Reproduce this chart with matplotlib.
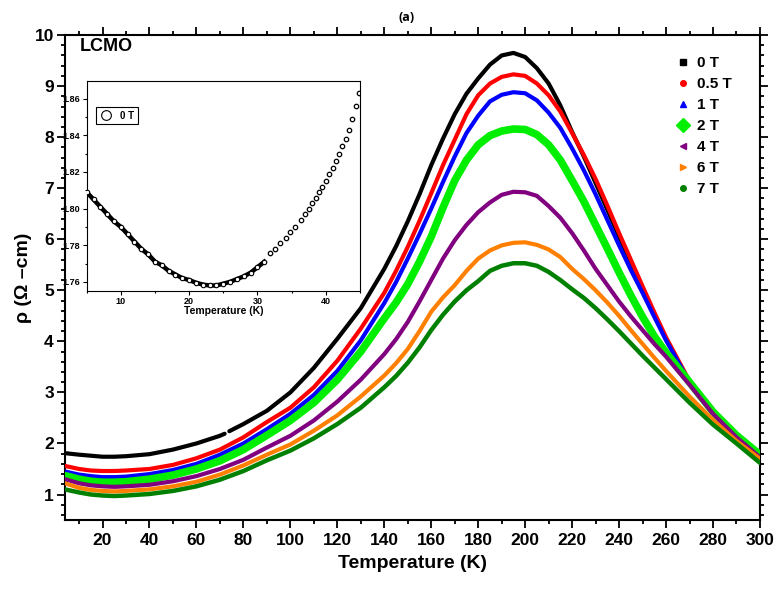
import matplotlib
matplotlib.use("Agg")
import matplotlib.pyplot as plt
import numpy as np
from matplotlib.lines import Line2D
from matplotlib.ticker import MultipleLocator, FormatStrFormatter

plt.rcParams["font.family"] = ["Liberation Sans", "DejaVu Sans"]
plt.rcParams["font.weight"] = "bold"

# temperature grid (K) shared by the field curves
temps = [4, 10, 15, 20, 25, 30, 40, 50, 60, 70, 80, 90, 100, 110, 120, 130, 140,
         145, 150, 155, 160, 165, 170, 175, 180, 185, 190, 195, 200, 205, 210, 215,
         220, 225, 230, 235, 240, 245, 250, 255, 260, 270, 280, 290, 300]

rho_0T = [1.81, 1.78, 1.76, 1.74, 1.74, 1.75, 1.79, 1.88, 2.00, 2.15, 2.38, 2.64, 3.00,
          3.48, 4.05, 4.65, 5.42,
          5.86, 6.35, 6.88, 7.45, 7.97, 8.45, 8.85, 9.15, 9.42, 9.60, 9.65, 9.57, 9.35,
          9.05, 8.62, 8.10, 7.62, 7.10, 6.58, 6.05, 5.53, 5.02, 4.52, 4.05,
          3.18, 2.60, 2.14, 1.75]
rho_05T = [1.56, 1.50, 1.47, 1.46, 1.46, 1.47, 1.50, 1.58, 1.71, 1.88, 2.12, 2.42, 2.70,
           3.10, 3.62, 4.25, 4.95,
           5.38, 5.85, 6.36, 6.90, 7.45, 7.95, 8.45, 8.82, 9.05, 9.18, 9.23, 9.20, 9.05,
           8.82, 8.50, 8.08, 7.65, 7.18, 6.66, 6.12, 5.60, 5.08, 4.57, 4.08,
           3.22, 2.62, 2.15, 1.77]
rho_1T = [1.45, 1.39, 1.36, 1.34, 1.34, 1.35, 1.40, 1.48, 1.60, 1.78, 2.00, 2.28, 2.58,
          2.95, 3.42, 4.02, 4.75,
          5.16, 5.62, 6.10, 6.60, 7.12, 7.62, 8.08, 8.42, 8.70, 8.83, 8.88, 8.86, 8.72,
          8.48, 8.18, 7.78, 7.35, 6.88, 6.38, 5.88, 5.40, 4.95, 4.48, 4.02,
          3.20, 2.60, 2.14, 1.76]
rho_2T = [1.37, 1.30, 1.26, 1.24, 1.24, 1.25, 1.30, 1.38, 1.50, 1.66, 1.88, 2.16, 2.45,
          2.80, 3.25, 3.80, 4.45,
          4.76, 5.12, 5.56, 6.05, 6.62, 7.15, 7.55, 7.85, 8.03, 8.12, 8.16, 8.15, 8.05,
          7.85, 7.55, 7.15, 6.74, 6.28, 5.82, 5.35, 4.90, 4.48, 4.10, 3.78,
          3.20, 2.62, 2.16, 1.78]
rho_4T = [1.30, 1.22, 1.18, 1.16, 1.15, 1.16, 1.19, 1.26, 1.36, 1.50, 1.68, 1.92, 2.15,
          2.45, 2.82, 3.25, 3.75,
          4.04, 4.38, 4.78, 5.20, 5.62, 5.98, 6.28, 6.53, 6.72, 6.87, 6.93, 6.92, 6.85,
          6.65, 6.42, 6.12, 5.78, 5.42, 5.10, 4.78, 4.49, 4.22, 3.95, 3.70,
          3.15, 2.58, 2.12, 1.73]
rho_6T = [1.22, 1.13, 1.09, 1.07, 1.06, 1.07, 1.10, 1.16, 1.25, 1.39, 1.57, 1.78, 1.98,
          2.25, 2.55, 2.92, 3.33,
          3.57, 3.85, 4.20, 4.58, 4.86, 5.10, 5.38, 5.62, 5.78, 5.88, 5.93, 5.94, 5.89,
          5.80, 5.65, 5.42, 5.22, 5.00, 4.76, 4.50, 4.22, 3.95, 3.68, 3.42,
          2.92, 2.46, 2.05, 1.70]
rho_7T = [1.10, 1.04, 1.00, 0.98, 0.97, 0.98, 1.01, 1.07, 1.16, 1.29, 1.46, 1.67, 1.86,
          2.10, 2.38, 2.70, 3.10,
          3.32, 3.58, 3.88, 4.22, 4.52, 4.78, 5.00, 5.18, 5.38, 5.48, 5.53, 5.53, 5.48,
          5.36, 5.20, 5.02, 4.85, 4.65, 4.43, 4.20, 3.96, 3.72, 3.49, 3.26,
          2.80, 2.37, 2.00, 1.62]

# small break in the 0 T record near 73 K
gap_T = [72, 73, 74]
gap_rho = [2.19, np.nan, 2.24]

labels = ["0 T", "0.5 T", "1 T", "2 T", "4 T", "6 T", "7 T"]
colors = ["black", "#ff0000", "#0000ff", "#00ee00", "#800080", "#ff8000", "#008000"]
markers = ["s", "o", "^", "D", "<", ">", "o"]
msizes = [4, 4, 4, 7, 4, 4, 4]
widths = [3.0, 3.0, 3.0, 5.5, 3.0, 3.0, 3.2]

# inset: 0 T low-temperature minimum
inset_T_dense = [5, 6, 7, 8, 9, 10, 11, 12, 13, 14, 15, 16, 17, 18, 19, 20, 21, 22, 23,
                 24, 25, 26, 27, 28, 29, 30, 31]
inset_rho_dense = [1.809, 1.805, 1.801, 1.797, 1.793, 1.790, 1.786, 1.782, 1.778, 1.775,
                   1.771, 1.769, 1.766, 1.764, 1.762, 1.761, 1.7595, 1.7585, 1.758, 1.758,
                   1.759, 1.760, 1.7615, 1.763, 1.765, 1.768, 1.771]
inset_T_sparse = [31.9, 32.6, 33.3, 34.1, 34.8, 35.5, 36.3, 37.0, 37.5, 38.0, 38.5, 39.0,
                  39.5, 40.0, 40.5, 41.0, 41.5, 42.0, 42.4, 42.9, 43.4, 43.9, 44.4, 44.9]
inset_rho_sparse = [1.7755, 1.778, 1.781, 1.784, 1.787, 1.790, 1.794, 1.797, 1.800, 1.803,
                    1.806, 1.809, 1.812, 1.815, 1.819, 1.822, 1.826, 1.830, 1.834, 1.838,
                    1.843, 1.849, 1.856, 1.863]

fig = plt.figure(figsize=(7.78, 5.90), dpi=100)
ax = fig.add_axes([0.0835, 0.1186, 0.8933, 0.822])

series = [rho_0T, rho_05T, rho_1T, rho_2T, rho_4T, rho_6T, rho_7T]
T = np.array(temps, dtype=float)
for i, rho in enumerate(series):
    t_vals, r_vals = T, np.array(rho, dtype=float)
    if i == 0:
        keep = (T < 72) | (T > 74)
        t_vals = np.concatenate([T[keep], gap_T])
        r_vals = np.concatenate([r_vals[keep], gap_rho])
        order = np.argsort(t_vals, kind="stable")
        t_vals, r_vals = t_vals[order], r_vals[order]
    ax.plot(t_vals, r_vals, color=colors[i], lw=widths[i], solid_capstyle="round",
            solid_joinstyle="round", zorder=2 + i)

ax.set_xlim(4, 300)
ax.set_ylim(0.5, 10)
ax.xaxis.set_major_locator(MultipleLocator(20))
ax.xaxis.set_minor_locator(MultipleLocator(10))
ax.yaxis.set_major_locator(MultipleLocator(1))
ax.yaxis.set_minor_locator(MultipleLocator(0.2))
ax.tick_params(which="both", direction="out", top=True, right=True, labelsize=12.5,
               width=1.3)
ax.tick_params(which="major", length=6)
ax.tick_params(which="minor", length=3)
ax.tick_params(axis="y", which="both", pad=2)
for s in ax.spines.values():
    s.set_linewidth(1.5)
ax.set_xlabel("Temperature (K)", fontsize=14, fontweight="bold", labelpad=5)
ax.set_ylabel("ρ (Ω –cm)", fontsize=14, fontweight="bold", labelpad=2)
ax.text(0.021, 0.993, "LCMO", transform=ax.transAxes, fontsize=13, fontweight="bold",
        va="top", ha="left")
fig.text(0.522, 0.971, "(a)", fontsize=9, fontweight="bold", ha="center", va="center",
         family=["Open Sans", "DejaVu Sans"])

handles = [Line2D([], [], ls="none", marker=m, color=c, markersize=ms)
           for m, c, ms in zip(markers, colors, msizes)]
ax.legend(handles, labels, loc="upper left", bbox_to_anchor=(0.869, 0.969),
          frameon=False, handlelength=1.0, handletextpad=0.45, labelspacing=0.46,
          borderaxespad=0, prop={"size": 11, "weight": "bold"})

# inset
ax_in = fig.add_axes([0.1114, 0.5068, 0.3513, 0.3559])
ax_in.plot(inset_T_dense, inset_rho_dense, color="black", lw=3.2, zorder=2)
ax_in.plot(inset_T_dense, inset_rho_dense, ls="none", marker="o", ms=3.2, mfc="white",
           mec="black", mew=0.8, zorder=3)
ax_in.plot(inset_T_sparse, inset_rho_sparse, ls="none", marker="o", ms=3.2, mfc="none",
           mec="black", mew=0.9, zorder=3)
ax_in.set_xlim(5, 45)
ax_in.set_ylim(1.755, 1.8697)
ax_in.xaxis.set_major_locator(MultipleLocator(10))
ax_in.xaxis.set_minor_locator(MultipleLocator(5))
ax_in.yaxis.set_major_locator(MultipleLocator(0.02))
ax_in.yaxis.set_minor_locator(MultipleLocator(0.01))
ax_in.yaxis.set_major_formatter(FormatStrFormatter("%.2f"))
ax_in.tick_params(which="both", direction="out", labelsize=6.5, width=0.8, pad=1.5)
ax_in.tick_params(which="major", length=3)
ax_in.tick_params(which="minor", length=1.5)
for s in ax_in.spines.values():
    s.set_linewidth(0.8)
ax_in.set_xlabel("Temperature (K)", fontsize=7.5, fontweight="bold", labelpad=0)
in_handle = Line2D([], [], ls="none", marker="o", ms=7, mfc="white", mec="black", mew=0.8)
leg_in = ax_in.legend([in_handle], ["0 T"], loc="upper left", bbox_to_anchor=(0.035, 0.875),
                      borderaxespad=0, fancybox=False, edgecolor="black", framealpha=1,
                      handlelength=1.3, handletextpad=0.8, borderpad=0.35,
                      prop={"size": 7, "weight": "bold"})
leg_in.get_frame().set_linewidth(0.8)

fig.savefig("out.png", dpi=100)
